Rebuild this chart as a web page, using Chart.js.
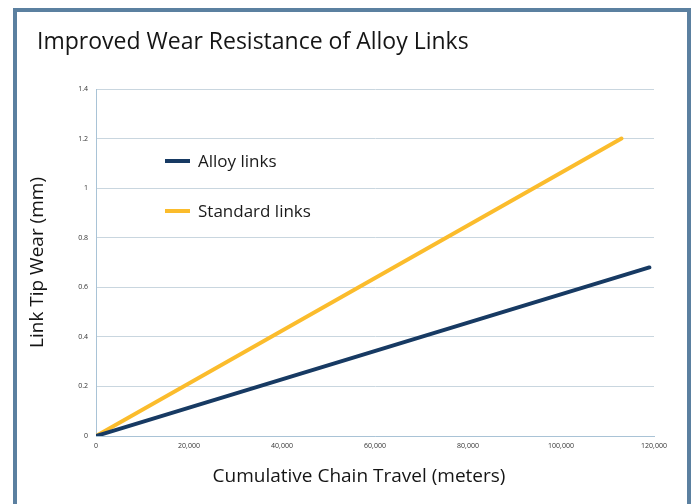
<!DOCTYPE html>
<html>
<head>
<meta charset="utf-8">
<script src="https://cdn.jsdelivr.net/npm/chart.js@4.4.1/dist/chart.umd.min.js"></script>
<style>
  html, body { margin: 0; padding: 0; background: #fff; }
  #wrap { position: relative; width: 694px; height: 504px; overflow: hidden; font-family: "Open Sans", sans-serif; }
  #frame { position: absolute; left: 13px; top: 8px; width: 670px; height: 520px; border: 4px solid #5b80a0; border-bottom: none; box-sizing: content-box; }
  #title { position: absolute; left: 37px; top: 24px; font-size: 23px; color: #151515; white-space: nowrap; }
  #xtitle { position: absolute; left: 0; width: 718px; top: 462px; text-align: center; font-size: 19px; color: #151515; white-space: nowrap; }
  .leg { position: absolute; left: 165px; font-size: 17px; color: #1a1a1a; white-space: nowrap; }
  .leg i { display: inline-block; width: 25px; height: 4px; vertical-align: middle; margin-right: 8px; position: relative; top: -1px; }
  canvas { position: absolute; left: 0; top: 0; }
</style>
</head>
<body>
<div id="wrap">
  <div id="frame"></div>
  <canvas id="chart" width="694" height="504"></canvas>
  <div id="title">Improved Wear Resistance of Alloy Links</div>
  <div id="xtitle">Cumulative Chain Travel (meters)</div>
  <div class="leg" id="leg0" style="top:149px"><i style="background:#173a63"></i>Alloy links</div>
  <div class="leg" id="leg1" style="top:199px"><i style="background:#fbbc2c"></i>Standard links</div>
</div>
<script>
// values
const alloyTravel = [0, 119000];
const alloyWear = [0, 0.68];
const standardTravel = [0, 113000];
const standardWear = [0, 1.2];
const xTicks = [0, 20000, 40000, 60000, 80000, 100000, 120000];
const yTicks = [0, 0.2, 0.4, 0.6, 0.8, 1, 1.2, 1.4];

const toPoints = (xs, ys) => xs.map((x, i) => ({ x, y: ys[i] }));

new Chart(document.getElementById('chart'), {
  type: 'line',
  data: {
    datasets: [
      { label: 'Alloy links', data: toPoints(alloyTravel, alloyWear), borderColor: '#173a63', borderWidth: 4, pointRadius: 0, borderCapStyle: 'round' },
      { label: 'Standard links', data: toPoints(standardTravel, standardWear), borderColor: '#fbbc2c', borderWidth: 4, pointRadius: 0, borderCapStyle: 'round' }
    ]
  },
  options: {
    responsive: false,
    animation: false,
    layout: { padding: { left: 0, top: 89, right: 40, bottom: 0 } },
    plugins: { legend: { display: false }, tooltip: { enabled: false } },
    scales: {
      x: {
        type: 'linear', min: 0, max: 120000,
        afterBuildTicks: s => { s.ticks = xTicks.map(v => ({ value: v })); },
        afterFit: s => { s.height = 68; },
        grid: { display: false, drawTicks: false },
        border: { color: '#a9c3d6', width: 1 },
        ticks: { padding: 6, font: { family: 'Open Sans', size: 7 }, color: '#333', maxRotation: 0,
                 callback: v => v.toLocaleString('en-US') }
      },
      y: {
        min: 0, max: 1.4,
        afterBuildTicks: s => { s.ticks = yTicks.map(v => ({ value: v })); },
        afterFit: s => { s.width = 96; },
        grid: { color: '#c9d6df', lineWidth: 1, drawTicks: false },
        border: { color: '#a9c3d6', width: 1 },
        ticks: { padding: 8, font: { family: 'Open Sans', size: 7 }, color: '#333',
                 callback: v => String(Math.round(v * 10) / 10) },
        title: { display: true, text: 'Link Tip Wear (mm)', font: { family: 'Open Sans', size: 19 }, color: '#151515', padding: { top: 26, bottom: 0 } }
      }
    }
  }
});
</script>
</body>
</html>
